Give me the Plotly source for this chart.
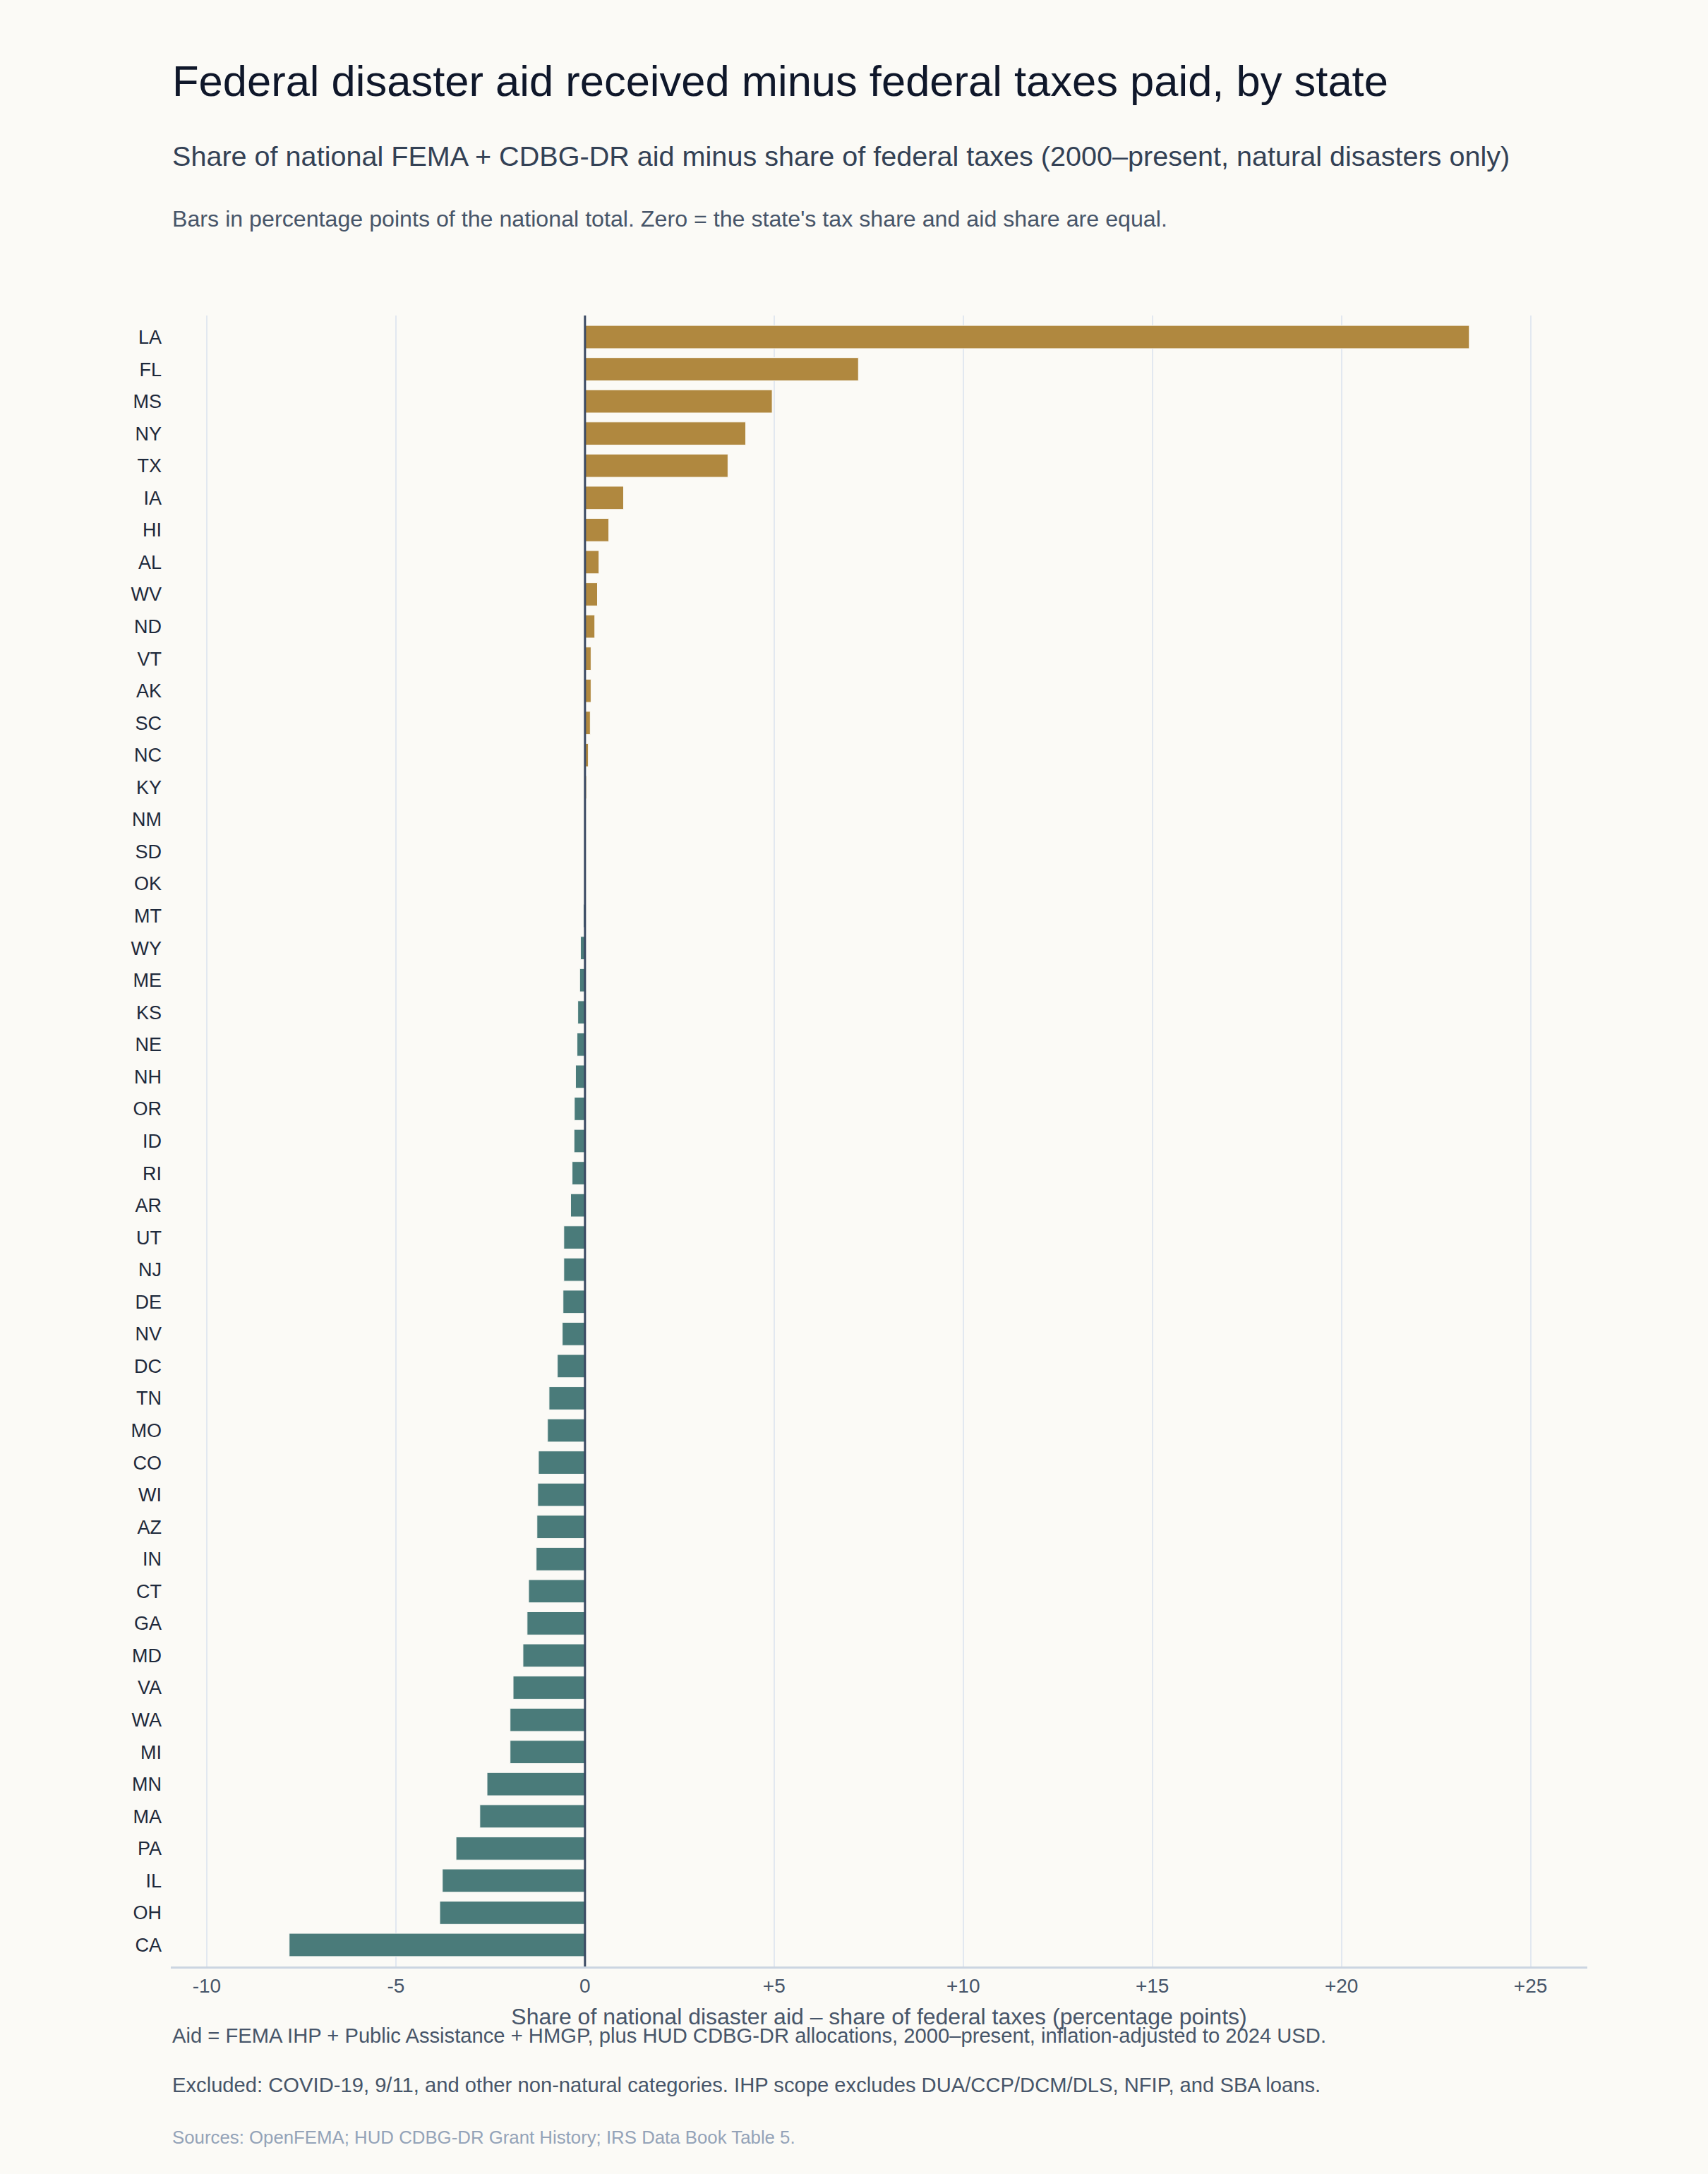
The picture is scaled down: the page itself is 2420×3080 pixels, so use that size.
import plotly.graph_objects as go

# states from top to bottom, values in percentage points
states = [
    "LA", "FL", "MS", "NY", "TX", "IA", "HI", "AL", "WV", "ND", "VT", "AK", "SC",
    "NC", "KY", "NM", "SD", "OK", "MT", "WY", "ME", "KS", "NE", "NH", "OR", "ID",
    "RI", "AR", "UT", "NJ", "DE", "NV", "DC", "TN", "MO", "CO", "WI", "AZ", "IN",
    "CT", "GA", "MD", "VA", "WA", "MI", "MN", "MA", "PA", "IL", "OH", "CA",
]
net_share = [
    23.38, 7.23, 4.95, 4.25, 3.78, 1.02, 0.63, 0.37, 0.33, 0.26, 0.16, 0.16, 0.14,
    0.09, 0.04, 0.01, 0.005, -0.005, -0.04, -0.12, -0.14, -0.19, -0.21, -0.25, -0.28, -0.29,
    -0.34, -0.38, -0.56, -0.56, -0.58, -0.60, -0.73, -0.95, -0.99, -1.23, -1.25, -1.27, -1.29,
    -1.49, -1.53, -1.64, -1.90, -1.98, -1.98, -2.59, -2.78, -3.41, -3.77, -3.84, -7.82,
]
tick_vals = [-10, -5, 0, 5, 10, 15, 20, 25]
tick_text = ["-10", "-5", "0", "+5", "+10", "+15", "+20", "+25"]

GOLD = "#B0883F"
TEAL = "#4A7B7A"
BG = "#FBFAF6"
FONT = "Liberation Sans, Arial, sans-serif"

W, H = 2420, 3080
M_L, M_R, M_T, M_B = 242, 171, 447, 294
plot_h = H - M_T - M_B


def py(px):
    # pixel row (from top of page) -> paper y
    return (H - M_B - px) / plot_h


colors = [GOLD if v >= 0 else TEAL for v in net_share]

fig = go.Figure()
fig.add_trace(
    go.Bar(
        x=net_share,
        y=states,
        orientation="h",
        marker=dict(color=colors, line=dict(color=BG, width=1)),
        hovertemplate="%{y}: %{x:+.2f} pp<extra></extra>",
    )
)

fig.update_layout(
    width=W,
    height=H,
    margin=dict(l=M_L, r=M_R, t=M_T, b=M_B),
    paper_bgcolor=BG,
    plot_bgcolor=BG,
    font=dict(family=FONT, color="#334155", size=28),
    bargap=0.28,
    showlegend=False,
)

fig.update_xaxes(
    range=[-10.95, 26.5],
    tickvals=tick_vals,
    ticktext=tick_text,
    tickfont=dict(size=28, color="#475569"),
    showgrid=True,
    gridcolor="#E2E8F0",
    gridwidth=2,
    zeroline=False,
    showline=True,
    linecolor="#CBD5E1",
    linewidth=3,
    ticks="",
    title=dict(
        text="Share of national disaster aid – share of federal taxes (percentage points)",
        font=dict(size=32, color="#475569"),
        standoff=18,
    ),
)
# small padding above the first and below the last bar, top-to-bottom order
fig.update_yaxes(
    range=[len(states) - 0.33, -0.67],
    tickfont=dict(size=27, color="#1E293B"),
    showgrid=False,
    ticks="",
    ticklabelstandoff=12,
)

# zero reference line drawn over the bars
fig.add_vline(x=0, line=dict(color="#3B4A63", width=3), layer="above")

texts = [
    ("Federal disaster aid received minus federal taxes paid, by state", 115, 61.5, "#0F172A"),
    ("Share of national FEMA + CDBG-DR aid minus share of federal taxes (2000–present, natural disasters only)", 221, 39.6, "#334155"),
    ("Bars in percentage points of the national total. Zero = the state's tax share and aid share are equal.", 310, 32.2, "#475569"),
    ("Aid = FEMA IHP + Public Assistance + HMGP, plus HUD CDBG-DR allocations, 2000–present, inflation-adjusted to 2024 USD.", 2884, 29.2, "#475569"),
    ("Excluded: COVID-19, 9/11, and other non-natural categories. IHP scope excludes DUA/CCP/DCM/DLS, NFIP, and SBA loans.", 2954, 29.2, "#475569"),
    ("Sources: OpenFEMA; HUD CDBG-DR Grant History; IRS Data Book Table 5.", 3028, 25.8, "#94A3B8"),
]
for text, row, size, color in texts:
    fig.add_annotation(
        text=text,
        xref="paper",
        yref="paper",
        x=0,
        y=py(row),
        xanchor="left",
        yanchor="middle",
        showarrow=False,
        font=dict(size=size, color=color),
    )

fig.write_html(
    "out.html",
    config={"displayModeBar": False},
    post_script="document.body.style.margin='0'; document.body.style.background='" + BG + "';",
)
